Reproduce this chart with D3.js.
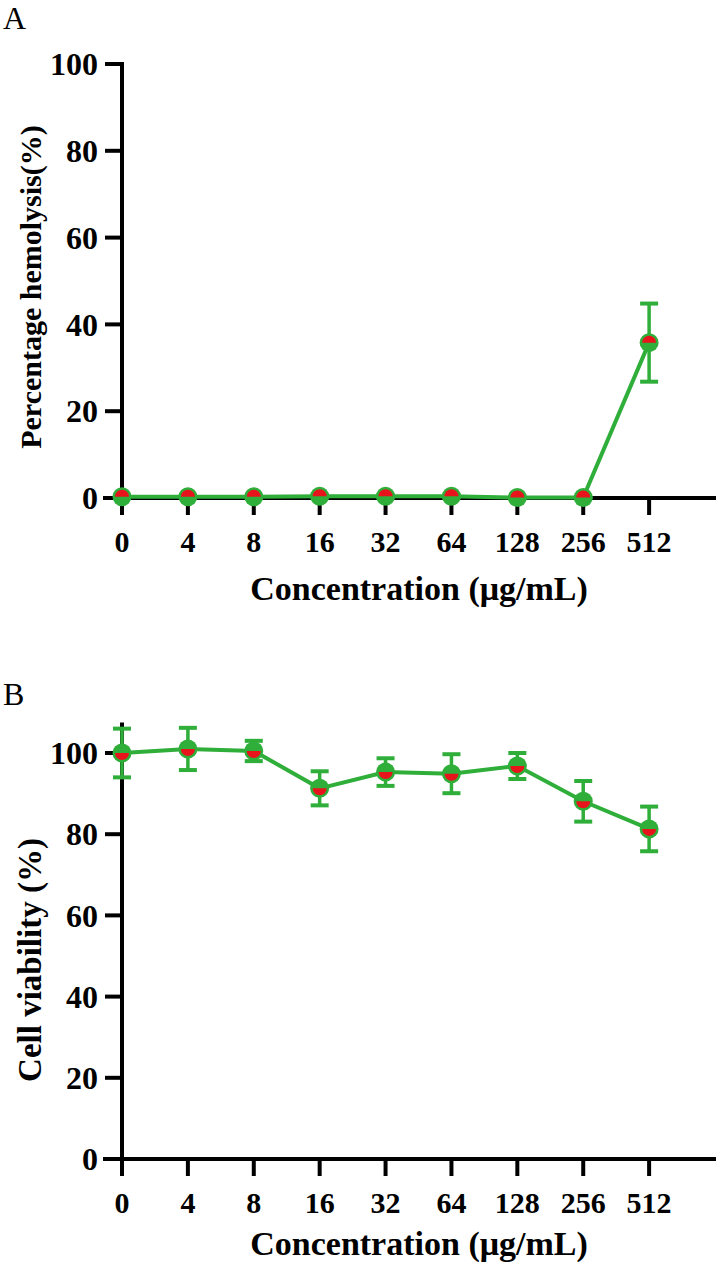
<!DOCTYPE html>
<html>
<head>
<meta charset="utf-8">
<script src="https://cdn.jsdelivr.net/npm/d3@7"></script>
<style>
  body { margin: 0; background: #fff; }
  svg { display: block; }
  text { font-family: "Liberation Serif", "Times New Roman", serif; font-weight: bold; fill: #000; }
</style>
</head>
<body>
<svg id="chart" width="720" height="1273"></svg>
<script>
// data
const concentrations = ['0', '4', '8', '16', '32', '64', '128', '256', '512'];
const hemolysis = [0.3, 0.3, 0.3, 0.4, 0.4, 0.4, 0.1, 0.1, 35.8];
const hemolysisErr = [0.2, 0.2, 0.2, 0.2, 0.2, 0.2, 0.1, 0.1, 9.0];
const viability = [100, 101, 100.5, 91.3, 95.3, 94.9, 96.8, 88.1, 81.3];
const viabilityErr = [6.0, 5.2, 2.5, 4.2, 3.4, 4.8, 3.2, 5.0, 5.5];
const yTicks = [0, 20, 40, 60, 80, 100];

const green = '#2fae3a';
const red = '#e8141c';

const svg = d3.select('#chart');

// draws one panel
const drawPanel = (opts) => {
  const { top, bottom, yMax, values, errors, letter, letterY, yLabel, yLabelY, yLabelSize, titleY, redTop } = opts;
  const g = svg.append('g');

  const x = d3.scaleLinear().domain([0, 9]).range([122, 715]);
  const y = d3.scaleLinear().domain([0, yMax]).range([bottom, top]);

  // axes
  g.append('line')
    .attr('x1', 103).attr('x2', 716)
    .attr('y1', y(0)).attr('y2', y(0))
    .attr('stroke', '#000').attr('stroke-width', 4);
  g.append('line')
    .attr('x1', x(0)).attr('x2', x(0))
    .attr('y1', y(yMax) - 2).attr('y2', y(0) + 17)
    .attr('stroke', '#000').attr('stroke-width', 4);

  g.selectAll('.ytick')
    .data(yTicks)
    .enter()
    .append('line')
    .attr('x1', 105).attr('x2', 122)
    .attr('y1', d => y(d)).attr('y2', d => y(d))
    .attr('stroke', '#000').attr('stroke-width', 4);

  g.selectAll('.ylab')
    .data(yTicks)
    .enter()
    .append('text')
    .attr('x', 98)
    .attr('y', d => y(d))
    .attr('dy', '0.35em')
    .attr('text-anchor', 'end')
    .style('font-size', '32px')
    .text(d => d);

  g.selectAll('.xtick')
    .data(concentrations)
    .enter()
    .append('line')
    .attr('x1', (d, i) => x(i)).attr('x2', (d, i) => x(i))
    .attr('y1', y(0)).attr('y2', y(0) + 17)
    .attr('stroke', '#000').attr('stroke-width', 4);

  g.selectAll('.xlab')
    .data(concentrations)
    .enter()
    .append('text')
    .attr('x', (d, i) => x(i))
    .attr('y', y(0) + 54)
    .attr('text-anchor', 'middle')
    .style('font-size', '30px')
    .text(d => d);

  // titles
  g.append('text')
    .attr('x', 419).attr('y', titleY)
    .attr('text-anchor', 'middle')
    .style('font-size', '34px')
    .text('Concentration (μg/mL)');

  g.append('text')
    .attr('transform', `translate(41,${yLabelY}) rotate(-90)`)
    .attr('text-anchor', 'middle')
    .style('font-size', yLabelSize)
    .text(yLabel);

  g.append('text')
    .attr('x', 3).attr('y', letterY)
    .style('font-size', '32px')
    .style('font-weight', 'normal')
    .text(letter);

  // error bars
  const eb = g.selectAll('.err')
    .data(values)
    .enter()
    .append('g');
  eb.append('line')
    .attr('x1', (d, i) => x(i)).attr('x2', (d, i) => x(i))
    .attr('y1', (d, i) => y(d + errors[i])).attr('y2', (d, i) => y(d - errors[i]))
    .attr('stroke', green).attr('stroke-width', 3.5);
  eb.append('line')
    .attr('x1', (d, i) => x(i) - 9).attr('x2', (d, i) => x(i) + 9)
    .attr('y1', (d, i) => y(d + errors[i])).attr('y2', (d, i) => y(d + errors[i]))
    .attr('stroke', green).attr('stroke-width', 4);
  eb.append('line')
    .attr('x1', (d, i) => x(i) - 9).attr('x2', (d, i) => x(i) + 9)
    .attr('y1', (d, i) => y(d - errors[i])).attr('y2', (d, i) => y(d - errors[i]))
    .attr('stroke', green).attr('stroke-width', 4);

  // connecting line
  const line = d3.line()
    .x((d, i) => x(i))
    .y(d => y(d));
  g.append('path')
    .datum(values)
    .attr('d', line)
    .attr('fill', 'none')
    .attr('stroke', green)
    .attr('stroke-width', 4);

  // markers: green disc with a red half
  const arc = d3.arc().innerRadius(0).outerRadius(7);
  const m = g.selectAll('.marker')
    .data(values)
    .enter()
    .append('g')
    .attr('transform', (d, i) => `translate(${x(i)},${y(d)})`);
  m.append('circle')
    .attr('r', 9.5)
    .attr('fill', green);
  m.append('path')
    .attr('d', redTop
      ? arc({ startAngle: -Math.PI / 2, endAngle: Math.PI / 2 })
      : arc({ startAngle: Math.PI / 2, endAngle: Math.PI * 1.5 }))
    .attr('fill', red);
};

drawPanel({
  top: 64, bottom: 498, yMax: 100,
  values: hemolysis, errors: hemolysisErr,
  letter: 'A', letterY: 29,
  yLabel: 'Percentage hemolysis(%)', yLabelY: 287, yLabelSize: '30px',
  titleY: 600, redTop: true
});

drawPanel({
  top: 753 - 4.06 * 7, bottom: 1159, yMax: 107,
  values: viability, errors: viabilityErr,
  letter: 'B', letterY: 705,
  yLabel: 'Cell viability (%)', yLabelY: 960, yLabelSize: '33px',
  titleY: 1255, redTop: false
});
</script>
</body>
</html>
